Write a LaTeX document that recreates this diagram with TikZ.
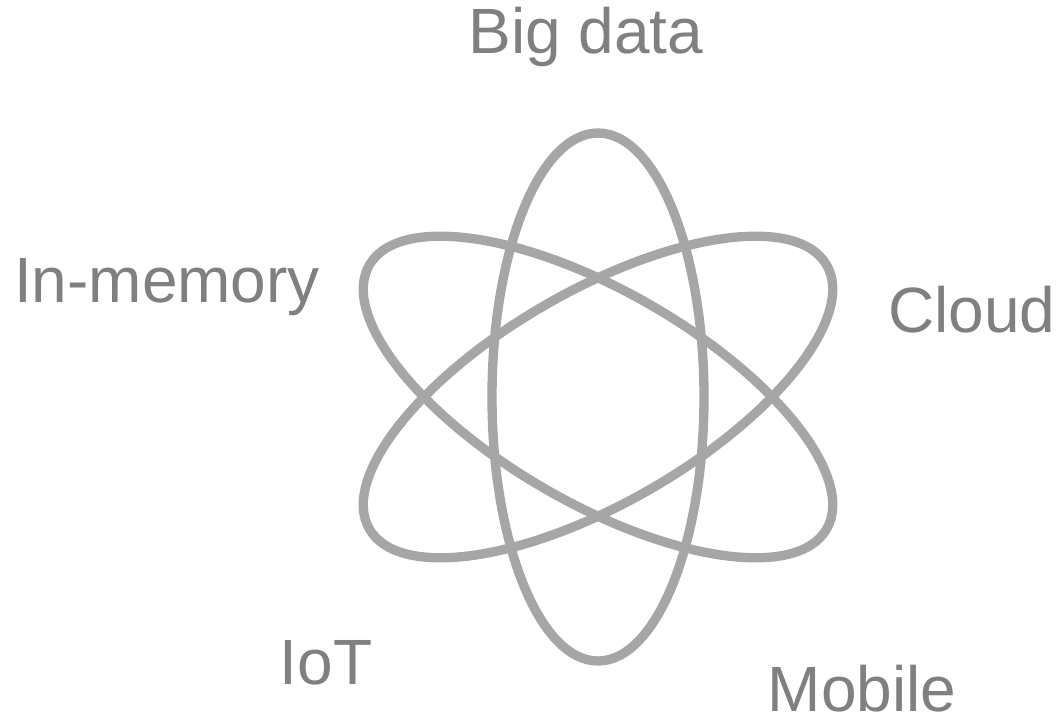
\documentclass[tikz,border=0pt]{standalone}
\usepackage{fontspec}
\setmainfont{Liberation Sans}
\usetikzlibrary{calc,positioning}
\definecolor{lgray}{RGB}{166, 166, 166}
\definecolor{dgray}{RGB}{128, 128, 128}
\tikzstyle{orbit} = [draw=lgray, line width=7pt]
\tikzstyle{tag} = [text=dgray, inner sep=0pt, font=\fontsize{48}{54}\selectfont]
\begin{document}
\begin{tikzpicture}[x=0.75pt, y=-0.75pt]

  \useasboundingbox (0,0) rectangle (1061,722);

  %%%%%%%%%%%%%%%%%%%%%%%%%%%%%%%%%%%%%%%%%%%%%%%%%%%%%%%%%%%%%%
  %                          ORBITS                            %
  %%%%%%%%%%%%%%%%%%%%%%%%%%%%%%%%%%%%%%%%%%%%%%%%%%%%%%%%%%%%%%

  \coordinate (core) at (598,397);
  \draw [orbit] (core) ellipse [x radius=106, y radius=264];
  \draw [orbit, rotate around={60:(core)}] (core) ellipse [x radius=106, y radius=264];
  \draw [orbit, rotate around={-60:(core)}] (core) ellipse [x radius=106, y radius=264];

  %%%%%%%%%%%%%%%%%%%%%%%%%%%%%%%%%%%%%%%%%%%%%%%%%%%%%%%%%%%%%%
  %                          LABELS                            %
  %%%%%%%%%%%%%%%%%%%%%%%%%%%%%%%%%%%%%%%%%%%%%%%%%%%%%%%%%%%%%%

  \node [tag] at (586,37) (big-data) {Big data};
  \node [tag] at (167,287) (in-memory) {In-memory};
  \node [tag] at (972,310) (cloud) {Cloud};
  \node [tag] at (326,663) (iot) {IoT};
  \node [tag, anchor=base] at (862,711) (mobile) {Mobile};

\end{tikzpicture}
\end{document}
